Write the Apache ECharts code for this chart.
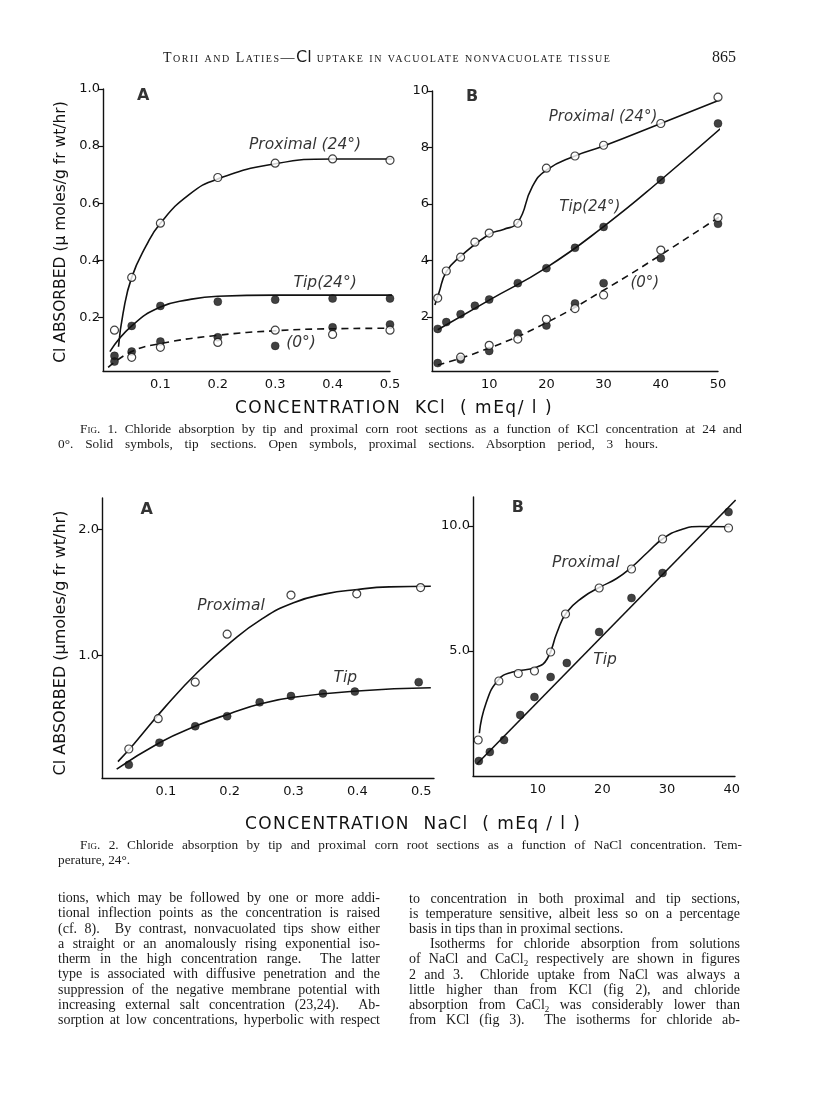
<!DOCTYPE html>
<html><head><meta charset="utf-8">
<script src="https://cdn.jsdelivr.net/npm/echarts@6/dist/echarts.min.js"></script>
<style>
html,body{margin:0;padding:0;background:#fff;}
#page{position:relative;width:816px;height:1109px;overflow:hidden;background:#fff;}
#chart{position:absolute;left:0;top:0;width:816px;height:1109px;}
.t{position:absolute;font-family:"Liberation Serif","DejaVu Serif",serif;color:#1a1a1a;white-space:nowrap;font-size:14px;line-height:15px;height:15px;}
.cap{font-size:13.3px;}
.j{text-align:justify;text-align-last:justify;}
.sc{font-variant:small-caps;}
.ax{position:absolute;font-family:"DejaVu Sans",sans-serif;color:#111;white-space:nowrap;font-size:17px;line-height:20px;letter-spacing:1.5px;}
sub{font-size:9px;line-height:0;vertical-align:-3px;}
</style></head>
<body><div id="page">
<div id="chart"></div>
<div class="t sc" style="left:163px;top:49px;font-size:14px;letter-spacing:1.5px;">Torii and Laties—<span style="font-variant:normal;font-family:'DejaVu Sans',sans-serif;font-size:16px;letter-spacing:0">Cl</span> uptake in vacuolate nonvacuolate tissue</div>
<div class="t" style="left:712px;top:49px;font-size:16px;">865</div>

<div class="ax" style="left:235px;top:397px;">CONCENTRATION&nbsp; KCl&nbsp; ( mEq/ l )</div>
<div class="t j cap" style="left:80px;top:421px;width:662px;"><span class="sc">Fig.</span> 1. Chloride absorption by tip and proximal corn root sections as a function of KCl concentration at 24 and</div>
<div class="t j cap" style="left:58px;top:436px;width:600px;">0°. Solid symbols, tip sections. Open symbols, proximal sections. Absorption period, 3 hours.</div>

<div class="ax" style="left:245px;top:813px;letter-spacing:1.4px;">CONCENTRATION&nbsp; NaCl&nbsp; ( mEq / l )</div>
<div class="t j cap" style="left:80px;top:837px;width:662px;"><span class="sc">Fig.</span> 2. Chloride absorption by tip and proximal corn root sections as a function of NaCl concentration. Tem-</div>
<div class="t cap" style="left:58px;top:852px;">perature, 24°.</div>

<div id="body"></div>
</div>
<script>
// ---------- Fig. 1A : KCl 0-0.5 mEq/l ----------
const f1aX = [0.02, 0.05, 0.1, 0.2, 0.3, 0.4, 0.5];
const f1aProx24 = [0.155, 0.34, 0.53, 0.69, 0.74, 0.755, 0.75];
const f1aTip24 = [0.065, 0.17, 0.24, 0.255, 0.262, 0.266, 0.266];
const f1aTip0 = [0.045, 0.08, 0.115, 0.13, 0.10, 0.165, 0.175];
const f1aProx0X = [0.05, 0.1, 0.2, 0.3, 0.4, 0.5];
const f1aProx0 = [0.06, 0.095, 0.112, 0.155, 0.14, 0.155];
const f1aProx24CurveX = [0.027, 0.035, 0.05, 0.075, 0.1, 0.15, 0.2, 0.3, 0.4, 0.526];
const f1aProx24CurveY = [0.097, 0.215, 0.34, 0.45, 0.53, 0.63, 0.685, 0.738, 0.755, 0.755];
const f1aTip24CurveX = [0.012, 0.05, 0.1, 0.15, 0.2, 0.3, 0.517];
const f1aTip24CurveY = [0.08, 0.17, 0.236, 0.262, 0.274, 0.278, 0.278];
const f1a0CurveX = [0.009, 0.05, 0.1, 0.2, 0.3, 0.4, 0.53];
const f1a0CurveY = [0.025, 0.08, 0.108, 0.137, 0.153, 0.16, 0.162];
const f1aYTicks = [0.2, 0.4, 0.6, 0.8, 1.0];
const f1aXTicks = [0.1, 0.2, 0.3, 0.4, 0.5];

// ---------- Fig. 1B : KCl 0-50 mEq/l ----------
const f1bX = [1, 2.5, 5, 7.5, 10, 15, 20, 25, 30, 40, 50];
const f1bProx24 = [2.67, 3.63, 4.12, 4.65, 4.97, 5.32, 7.27, 7.7, 8.08, 8.85, 9.78];
const f1bTip24 = [1.58, 1.82, 2.1, 2.4, 2.62, 3.2, 3.73, 4.45, 5.19, 6.85, 8.85];
const f1bTip0X = [1, 5, 10, 15, 20, 25, 30, 40, 50];
const f1bTip0 = [0.37, 0.5, 0.8, 1.43, 1.7, 2.48, 3.2, 4.08, 5.3];
const f1bProx0X = [5, 10, 15, 20, 25, 30, 40, 50];
const f1bProx0 = [0.58, 1.0, 1.22, 1.92, 2.3, 2.78, 4.37, 5.52];
const f1bProx24CurveX = [0.5, 1.2, 2.5, 5, 10, 12.5, 15, 17.5, 20, 25, 30, 40, 52.5];
const f1bProx24CurveY = [2.43, 2.85, 3.6, 4.15, 4.93, 5.1, 5.35, 6.6, 7.2, 7.7, 8.05, 8.85, 9.86];
const f1bTip24CurveX = [1, 10, 20, 30, 40, 53.4];
const f1bTip24CurveY = [1.55, 2.6, 3.75, 5.2, 6.85, 9.2];
const f1b0CurveX = [1, 10, 20, 30, 40, 52.5];
const f1b0CurveY = [0.3, 0.9, 1.8, 2.95, 4.2, 5.85];
const f1bYTicks = [2, 4, 6, 8, 10];
const f1bXTicks = [10, 20, 30, 40, 50];

// ---------- Fig. 2A : NaCl 0-0.5 mEq/l ----------
const f2aProxX = [0.042, 0.088, 0.146, 0.196, 0.296, 0.399, 0.499];
const f2aProx = [0.26, 0.5, 0.79, 1.17, 1.48, 1.49, 1.54];
const f2aTipX = [0.042, 0.09, 0.146, 0.196, 0.247, 0.296, 0.346, 0.396, 0.496];
const f2aTip = [0.135, 0.31, 0.44, 0.52, 0.63, 0.68, 0.70, 0.715, 0.79];
const f2aProxCurveX = [0.025, 0.05, 0.1, 0.15, 0.2, 0.25, 0.3, 0.35, 0.4, 0.45, 0.515];
const f2aProxCurveY = [0.16, 0.30, 0.6, 0.87, 1.1, 1.29, 1.42, 1.49, 1.525, 1.545, 1.55];
const f2aTipCurveX = [0.023, 0.09, 0.146, 0.2, 0.25, 0.3, 0.4, 0.515];
const f2aTipCurveY = [0.1, 0.31, 0.44, 0.54, 0.62, 0.67, 0.72, 0.745];
const f2aYTicks = [1.0, 2.0];
const f2aXTicks = [0.1, 0.2, 0.3, 0.4, 0.5];

// ---------- Fig. 2B : NaCl 0-40 mEq/l ----------
const f2bProxX = [0.8, 4, 7, 9.5, 12, 14.3, 19.5, 24.5, 29.3, 39.5];
const f2bProx = [1.44, 3.8, 4.1, 4.2, 4.96, 6.48, 7.52, 8.28, 9.48, 9.92];
const f2bTipX = [0.9, 2.6, 4.8, 7.3, 9.5, 12, 14.5, 19.5, 24.5, 29.3, 39.5];
const f2bTip = [0.6, 0.96, 1.44, 2.44, 3.16, 3.96, 4.52, 5.76, 7.12, 8.12, 10.56];
const f2bProxCurveX = [0.98, 2.0, 3.9, 6, 9.8, 11.5, 13, 14.5, 17, 19.6, 22.2, 24.5, 27, 29.4, 32, 35, 39.7];
const f2bProxCurveY = [1.71, 2.9, 3.84, 4.15, 4.35, 4.7, 5.75, 6.55, 7.15, 7.55, 7.9, 8.35, 8.95, 9.5, 9.84, 9.98, 9.97];
const f2bTipLineX = [0.6, 40.6];
const f2bTipLineY = [0.48, 11.04];
const f2bYTicks = [5.0, 10.0];
const f2bXTicks = [10, 20, 30, 40];

// ---------- annotations (text anchored in data units) ----------
const f1aNotes = [[0.352, 0.805, 'Proximal (24°)'], [0.387, 0.32, 'Tip(24°)'], [0.345, 0.11, '(0°)']];
const f1bNotes = [[29.9, 9.08, 'Proximal (24°)'], [27.6, 5.9, 'Tip(24°)'], [37.2, 3.2, '(0°)']];
const f2aNotes = [[0.202, 1.39, 'Proximal'], [0.381, 0.82, 'Tip']];
const f2bNotes = [[17.45, 8.52, 'Proximal'], [20.4, 4.64, 'Tip']];
const panelLetters = [[0, 0.07, 0.975, 'A'], [1, 7.0, 9.78, 'B'], [2, 0.07, 2.155, 'A'], [3, 6.95, 10.72, 'B']];

// ---------- body text ----------
const leftCol = [
 'tions, which may be followed by one or more addi-',
 'tional inflection points as the concentration is raised',
 '(cf. 8). &nbsp;By contrast, nonvacuolated tips show either',
 'a straight or an anomalously rising exponential iso-',
 'therm in the high concentration range. &nbsp;The latter',
 'type is associated with diffusive penetration and the',
 'suppression of the negative membrane potential with',
 'increasing external salt concentration (23,24). &nbsp;Ab-',
 'sorption at low concentrations, hyperbolic with respect'
];
const rightCol = [
 'to concentration in both proximal and tip sections,',
 'is temperature sensitive, albeit less so on a percentage',
 'basis in tips than in proximal sections.',
 'Isotherms for chloride absorption from solutions',
 'of NaCl and CaCl<sub>2</sub> respectively are shown in figures',
 '2 and 3. &nbsp;Chloride uptake from NaCl was always a',
 'little higher than from KCl (fig 2), and chloride',
 'absorption from CaCl<sub>2</sub> was considerably lower than',
 'from KCl (fig 3). &nbsp;The isotherms for chloride ab-'
];
(function(){
  const b = document.getElementById('body');
  let h = '';
  leftCol.forEach((s,i)=>{ h += `<div class="t j" style="left:58px;top:${(890+i*15.25).toFixed(1)}px;width:322px;">${s}</div>`; });
  rightCol.forEach((s,i)=>{
    const top = (891+i*15.1).toFixed(1);
    if (i===2) h += `<div class="t" style="left:409px;top:${top}px;">${s}</div>`;
    else if (i===3) h += `<div class="t j" style="left:430px;top:${top}px;width:310px;">${s}</div>`;
    else h += `<div class="t j" style="left:409px;top:${top}px;width:331px;">${s}</div>`;
  });
  b.innerHTML = h;
})();

// ---------- chart ----------
const SANS = "'DejaVu Sans', 'Liberation Sans', sans-serif";
const INK = '#111';
const zip = (xs, ys) => xs.map((x,i)=>[x, ys[i]]);

function xAxis(g, min, max, ticks, fmt) {
  return { gridIndex:g, type:'value', min:min, max:max,
    axisLine:{show:true, onZero:false, lineStyle:{color:INK, width:1.4}},
    axisTick:{show:false},
    splitLine:{show:false},
    axisLabel:{customValues:ticks, formatter:fmt, fontFamily:SANS, fontSize:13, color:INK, margin:7} };
}
function yAxis(g, min, max, ticks, fmt) {
  return { gridIndex:g, type:'value', min:min, max:max,
    axisLine:{show:true, onZero:false, lineStyle:{color:INK, width:1.4}},
    axisTick:{show:true, customValues:ticks, length:5, lineStyle:{color:INK, width:1.2}},
    splitLine:{show:false},
    axisLabel:{customValues:ticks, formatter:fmt, fontFamily:SANS, fontSize:13, color:INK, margin:3} };
}
function curve(g, xs, ys, dashed) {
  return { type:'line', xAxisIndex:g, yAxisIndex:g, data:zip(xs, ys), smooth:0.5,
    symbol:'none', clip:false, z:2, silent:true,
    lineStyle:{color:INK, width:1.6, type: dashed ? [7,5] : 'solid'} };
}
function pts(g, xs, ys, open) {
  return { type:'scatter', xAxisIndex:g, yAxisIndex:g, data:zip(xs, ys), symbol:'circle', symbolSize:8, clip:false, z:4,
    itemStyle: open ? {color:'#fff', borderColor:INK, borderWidth:1.2} : {color:INK, borderColor:INK, borderWidth:0.5} };
}
function notes(g, arr, size, weight, style) {
  return { type:'scatter', xAxisIndex:g, yAxisIndex:g, data:arr, symbolSize:0, z:5, silent:true,
    label:{show:true, position:'inside', formatter:p=>p.data[2], fontFamily:SANS, fontSize:size, fontStyle:style, fontWeight:weight, color:'#000'} };
}
const f1 = v => v.toFixed(1);
const f0 = v => String(Math.round(v));

const option = {
  animation:false,
  backgroundColor:'transparent',
  grid:[
    {left:103, top:89, width:287, height:282, containLabel:false, outerBoundsMode:'none'},
    {left:432, top:91, width:286, height:280, containLabel:false, outerBoundsMode:'none'},
    {left:102, top:498, width:332, height:280, containLabel:false, outerBoundsMode:'none'},
    {left:473, top:497, width:262, height:279, containLabel:false, outerBoundsMode:'none'}
  ],
  xAxis:[
    xAxis(0, 0, 0.5, f1aXTicks, f1),
    xAxis(1, 0, 50, f1bXTicks, f0),
    xAxis(2, 0, 0.52, f2aXTicks, f1),
    xAxis(3, 0, 40.5, f2bXTicks, f0)
  ],
  yAxis:[
    yAxis(0, 0.012, 1.0, f1aYTicks, f1),
    yAxis(1, 0.09, 10, f1bYTicks, f0),
    yAxis(2, 0.03, 2.25, f2aYTicks, f1),
    yAxis(3, 0, 11.16, f2bYTicks, f1)
  ],
  graphic:[
    {type:'text', x:61, y:232, rotation:Math.PI/2, style:{text:'Cl ABSORBED (\u03bc moles/g fr wt/hr)', align:'center', verticalAlign:'middle', font:"15.5px "+SANS, fill:INK}},
    {type:'text', x:61, y:643, rotation:Math.PI/2, style:{text:'Cl ABSORBED (\u03bcmoles/g fr wt/hr)', align:'center', verticalAlign:'middle', font:"16px "+SANS, fill:INK}}
  ],
  series:[
    curve(0, f1aProx24CurveX, f1aProx24CurveY),
    curve(0, f1aTip24CurveX, f1aTip24CurveY),
    curve(0, f1a0CurveX, f1a0CurveY, true),
    pts(0, f1aX, f1aProx24, true),
    pts(0, f1aX, f1aTip24, false),
    pts(0, f1aX, f1aTip0, false),
    pts(0, f1aProx0X, f1aProx0, true),
    notes(0, f1aNotes, 15.5, 'normal', 'italic'),

    curve(1, f1bProx24CurveX, f1bProx24CurveY),
    curve(1, f1bTip24CurveX, f1bTip24CurveY),
    curve(1, f1b0CurveX, f1b0CurveY, true),
    pts(1, f1bX, f1bProx24, true),
    pts(1, f1bX, f1bTip24, false),
    pts(1, f1bTip0X, f1bTip0, false),
    pts(1, f1bProx0X, f1bProx0, true),
    notes(1, f1bNotes, 15, 'normal', 'italic'),

    curve(2, f2aProxCurveX, f2aProxCurveY),
    curve(2, f2aTipCurveX, f2aTipCurveY),
    pts(2, f2aProxX, f2aProx, true),
    pts(2, f2aTipX, f2aTip, false),
    notes(2, f2aNotes, 15.5, 'normal', 'italic'),

    Object.assign(curve(3, f2bTipLineX, f2bTipLineY), {smooth:false}),
    curve(3, f2bProxCurveX, f2bProxCurveY),
    pts(3, f2bProxX, f2bProx, true),
    pts(3, f2bTipX, f2bTip, false),
    notes(3, f2bNotes, 15.5, 'normal', 'italic')
  ].concat([0,1,2,3].map(g => notes(g, panelLetters.filter(p=>p[0]===g).map(p=>[p[1],p[2],p[3]]), 16, 'bold', 'normal')))
};
const chart = echarts.init(document.getElementById('chart'), null, {renderer:'canvas', width:816, height:1109});
chart.setOption(option);
</script>
</body></html>
